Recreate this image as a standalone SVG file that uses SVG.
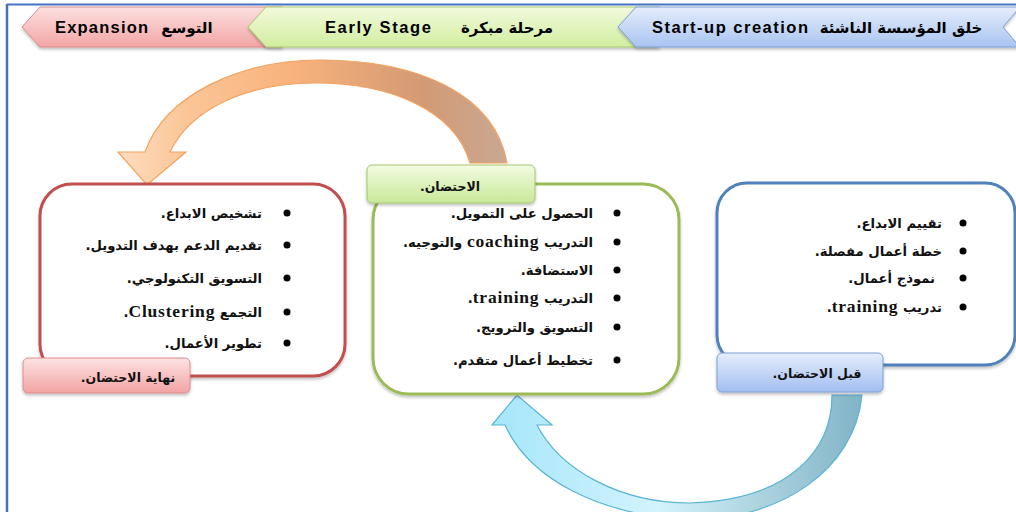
<svg xmlns="http://www.w3.org/2000/svg" width="1016" height="512" viewBox="0 0 1016 512">
<style>
.chev{font-family:"Liberation Sans","DejaVu Sans",sans-serif;font-weight:bold;font-size:16.5px;fill:#000}
.chevar{font-family:"DejaVu Sans",sans-serif;font-weight:bold;font-size:15px;fill:#000}
.item{font-family:"DejaVu Sans","Liberation Serif",serif;font-weight:bold;font-size:13.2px;fill:#111}
.lat{font-family:"Liberation Serif",serif;font-size:17.5px;letter-spacing:0.8px}
.lab{font-family:"DejaVu Sans",sans-serif;font-weight:bold;font-size:12.5px;fill:#111}
.bul{fill:#000}
</style>
<defs>
<linearGradient id="gBlueChev" x1="0" y1="0" x2="0" y2="1"><stop offset="0" stop-color="#e4edfc"/><stop offset="1" stop-color="#a9c4f0"/></linearGradient>
<linearGradient id="gGreenChev" x1="0" y1="0" x2="0" y2="1"><stop offset="0" stop-color="#f1fadd"/><stop offset="1" stop-color="#d2ee9f"/></linearGradient>
<linearGradient id="gRedChev" x1="0" y1="0" x2="0" y2="1"><stop offset="0" stop-color="#fde0e0"/><stop offset="1" stop-color="#f3a5a5"/></linearGradient>
<linearGradient id="gRedLab" x1="0" y1="0" x2="0" y2="1"><stop offset="0" stop-color="#fde3e3"/><stop offset="1" stop-color="#f2a3a3"/></linearGradient>
<linearGradient id="gGreenLab" x1="0" y1="0" x2="0" y2="1"><stop offset="0" stop-color="#f3fbe2"/><stop offset="1" stop-color="#c8e898"/></linearGradient>
<linearGradient id="gBlueLab" x1="0" y1="0" x2="0" y2="1"><stop offset="0" stop-color="#e6eefc"/><stop offset="1" stop-color="#a2bef0"/></linearGradient>
<linearGradient id="gOrange" gradientUnits="userSpaceOnUse" x1="118" y1="0" x2="507" y2="0"><stop offset="0" stop-color="#fdddc0"/><stop offset="0.18" stop-color="#fbc596"/><stop offset="0.45" stop-color="#f9b27c"/><stop offset="0.78" stop-color="#d39a74"/><stop offset="1" stop-color="#c9a893"/></linearGradient>
<linearGradient id="gCyan" gradientUnits="userSpaceOnUse" x1="492" y1="0" x2="862" y2="0"><stop offset="0" stop-color="#a6e6fb"/><stop offset="0.45" stop-color="#d3f3fd"/><stop offset="0.75" stop-color="#a9d0dd"/><stop offset="1" stop-color="#80b4c7"/></linearGradient>
<filter id="sh" x="-10%" y="-10%" width="120%" height="130%"><feDropShadow dx="0" dy="2" stdDeviation="1.5" flood-color="#000" flood-opacity="0.25"/></filter>
</defs>
<rect width="1016" height="512" fill="#fff"/>
<g id="frame" fill="none" stroke="#4472c4">
<line x1="7" y1="4.5" x2="1016" y2="4.5" stroke-width="2"/>
<line x1="7" y1="4" x2="7" y2="512" stroke-width="2.5"/>
</g>
<g id="stage-expansion">
<path d="M22,27 L40,7 L283,7 L265,27 L283,47 L40,47 Z" fill="url(#gRedChev)" stroke="#d98a8a" stroke-width="1" filter="url(#sh)"/>
<text class="chev" x="55" y="33" style="letter-spacing:1.2px">Expansion</text>
<text class="chevar" x="187" y="33" text-anchor="middle">التوسع</text>
</g>
<g id="stage-early">
<path d="M248,27 L266,7 L660,7 L642,27 L660,47 L266,47 Z" fill="url(#gGreenChev)" stroke="#a9c96f" stroke-width="1" filter="url(#sh)"/>
<text class="chev" x="325" y="33" style="letter-spacing:1.6px">Early Stage</text>
<text class="chevar" x="507" y="33" text-anchor="middle">مرحلة مبكرة</text>
</g>
<g id="stage-startup">
<path d="M618,27 L636,7 L1020,7 L1003,27 L1020,47 L636,47 Z" fill="url(#gBlueChev)" stroke="#7f9fd8" stroke-width="1" filter="url(#sh)"/>
<text class="chev" x="652" y="33" style="letter-spacing:1.5px">Start-up creation</text>
<text class="chevar" x="901" y="33" text-anchor="middle">خلق المؤسسة الناشئة</text>
</g>
<g id="connectors">
<path id="arrow-orange" d="M507,163 C495,95 420,60 320,60 C240,60 165,95 145,152 L118,152 L147,185 L186,152 L170,152 C190,110 245,83 315,83 C390,83 455,110 470,163 Z" fill="url(#gOrange)" stroke="#f4a25e" stroke-width="1.2"/>
<path id="arrow-cyan" d="M505,425 C530,480 600,515 690,520 C780,520 855,470 862,395 L832,395 C832,450 790,500 690,503 C620,503 560,470 537,425 L552,425 L517,395 L492,425 Z" fill="url(#gCyan)" stroke="#5ab4d4" stroke-width="1.2"/>
</g>
<g id="node-end">
<rect x="40" y="184" width="305" height="192" rx="32" fill="#fff" stroke="#c0504d" stroke-width="3" filter="url(#sh)"/>
<circle class="bul" cx="287" cy="213" r="3.5"/>
<circle class="bul" cx="287" cy="245" r="3.5"/>
<circle class="bul" cx="287" cy="278" r="3.5"/>
<circle class="bul" cx="287" cy="312" r="3.5"/>
<circle class="bul" cx="287" cy="343" r="3.5"/>
<text class="item" x="262" y="218" direction="rtl">تشخيص الابداع.</text>
<text class="item" x="262" y="250" direction="rtl">تقديم الدعم بهدف التدويل.</text>
<text class="item" x="262" y="283" direction="rtl">التسويق التكنولوجي.</text>
<text class="item" x="262" y="317" direction="rtl">التجمع <tspan class="lat">Clustering</tspan>.</text>
<text class="item" x="262" y="348" direction="rtl">تطوير الأعمال.</text>
<rect x="23" y="358" width="167" height="35" rx="5" fill="url(#gRedLab)" stroke="#dc8e8e" stroke-width="1" filter="url(#sh)"/>
<text class="lab" x="128" y="382" text-anchor="middle" direction="rtl">نهاية الاحتضان.</text>
</g>
<g id="node-incubation">
<rect x="373" y="184" width="306" height="210" rx="36" fill="#fff" stroke="#9bbb59" stroke-width="3" filter="url(#sh)"/>
<circle class="bul" cx="617" cy="213" r="3.5"/>
<circle class="bul" cx="617" cy="242" r="3.5"/>
<circle class="bul" cx="617" cy="270" r="3.5"/>
<circle class="bul" cx="617" cy="298" r="3.5"/>
<circle class="bul" cx="617" cy="327" r="3.5"/>
<circle class="bul" cx="617" cy="360" r="3.5"/>
<text class="item" x="593" y="218" direction="rtl">الحصول على التمويل.</text>
<text class="item" x="593" y="247" direction="rtl">التدريب <tspan class="lat">coaching</tspan> والتوجيه.</text>
<text class="item" x="593" y="275" direction="rtl">الاستضافة.</text>
<text class="item" x="593" y="303" direction="rtl">التدريب <tspan class="lat">training</tspan>.</text>
<text class="item" x="593" y="332" direction="rtl">التسويق والترويج.</text>
<text class="item" x="593" y="365" direction="rtl">تخطيط أعمال متقدم.</text>
<rect x="367" y="165" width="168" height="38" rx="5" fill="url(#gGreenLab)" stroke="#a6c66c" stroke-width="1" filter="url(#sh)"/>
<text class="lab" x="450" y="191" text-anchor="middle" direction="rtl">الاحتضان.</text>
</g>
<g id="node-pre">
<rect x="717" y="183" width="298" height="182" rx="30" fill="#fff" stroke="#4f81bd" stroke-width="3" filter="url(#sh)"/>
<circle class="bul" cx="963" cy="223" r="3.5"/>
<circle class="bul" cx="963" cy="251" r="3.5"/>
<circle class="bul" cx="963" cy="278" r="3.5"/>
<circle class="bul" cx="963" cy="307" r="3.5"/>
<text class="item" x="942" y="228" direction="rtl">تقييم الابداع.</text>
<text class="item" x="942" y="256" direction="rtl">خطة أعمال مفصلة.</text>
<text class="item" x="935" y="283" direction="rtl">نموذج أعمال.</text>
<text class="item" x="942" y="312" direction="rtl">تدريب <tspan class="lat">training</tspan>.</text>
<rect x="717" y="353" width="166" height="39" rx="5" fill="url(#gBlueLab)" stroke="#7d9fd6" stroke-width="1" filter="url(#sh)"/>
<text class="lab" x="817" y="378" text-anchor="middle" direction="rtl">قبل الاحتضان.</text>
</g>
</svg>
